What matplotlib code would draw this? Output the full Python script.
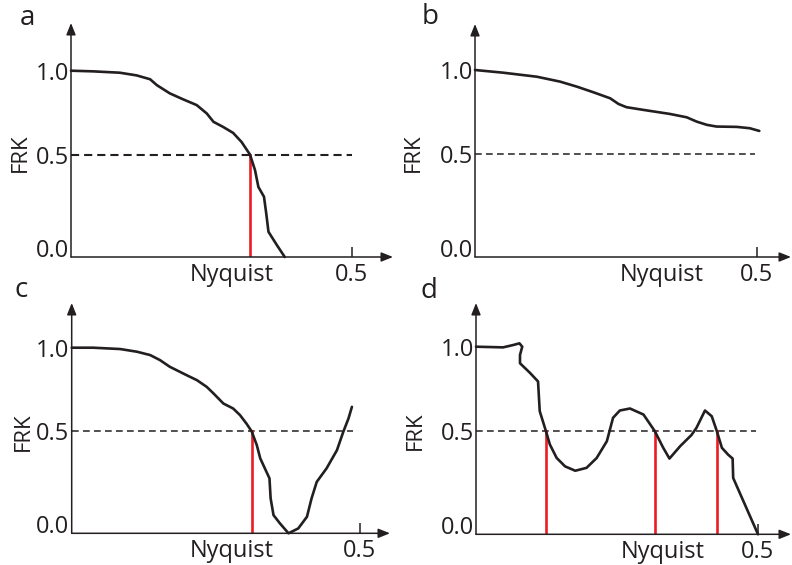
import numpy as np
import matplotlib
matplotlib.use("Agg")
from matplotlib import pyplot as plt

plt.rcParams['font.family'] = ['Open Sans', 'DejaVu Sans']

W, H = 792, 565
INK = '#231f20'
RED = '#ed1c24'

#   FRK curves (frequency in cycles/pixel, response)
a_freq = [0.000, 0.040, 0.087, 0.117, 0.141, 0.153, 0.176, 0.200, 0.224, 0.242, 0.254,
          0.271, 0.289, 0.304, 0.319, 0.328, 0.334, 0.344, 0.348, 0.352, 0.367, 0.381]
a_frk = [1.000, 0.996, 0.988, 0.972, 0.949, 0.914, 0.865, 0.829, 0.795, 0.745, 0.695,
         0.665, 0.629, 0.575, 0.500, 0.424, 0.342, 0.294, 0.213, 0.123, 0.058, 0.000]

b_freq = [0.000, 0.050, 0.110, 0.151, 0.181, 0.210, 0.240, 0.255, 0.269, 0.299, 0.346,
          0.376, 0.394, 0.412, 0.429, 0.465, 0.488, 0.505]
b_frk = [1.000, 0.984, 0.960, 0.931, 0.901, 0.868, 0.832, 0.798, 0.779, 0.763, 0.739,
         0.719, 0.693, 0.674, 0.664, 0.662, 0.654, 0.638]

c_freq = [0.000, 0.037, 0.084, 0.113, 0.136, 0.153, 0.170, 0.199, 0.217, 0.234, 0.246,
          0.263, 0.280, 0.292, 0.303, 0.312, 0.321, 0.327, 0.335, 0.343, 0.345, 0.350,
          0.361, 0.376, 0.393, 0.408, 0.416, 0.425, 0.442, 0.460, 0.471, 0.480, 0.486]
c_frk = [1.000, 1.000, 0.992, 0.976, 0.956, 0.926, 0.886, 0.836, 0.806, 0.766, 0.726,
         0.666, 0.636, 0.596, 0.546, 0.500, 0.432, 0.367, 0.318, 0.269, 0.171, 0.089,
         0.049, 0.000, 0.024, 0.081, 0.171, 0.252, 0.318, 0.407, 0.497, 0.576, 0.646]

d_freq = [0.000, 0.048, 0.066, 0.077, 0.082, 0.078, 0.078, 0.096, 0.110, 0.113, 0.124,
          0.131, 0.143, 0.158, 0.176, 0.196, 0.214, 0.232, 0.243, 0.255, 0.273, 0.297,
          0.317, 0.332, 0.343, 0.362, 0.382, 0.391, 0.406, 0.418, 0.427, 0.436, 0.447,
          0.455, 0.456, 0.500]
d_frk = [1.000, 0.996, 1.010, 1.020, 1.000, 0.951, 0.902, 0.844, 0.794, 0.618, 0.500,
         0.435, 0.370, 0.329, 0.308, 0.322, 0.370, 0.451, 0.579, 0.622, 0.634, 0.598,
         0.500, 0.419, 0.367, 0.427, 0.481, 0.520, 0.622, 0.588, 0.500, 0.419, 0.386,
         0.367, 0.273, 0.000]

#   where FRK falls through 0.5
a_cross = [0.319]
b_cross = []
c_cross = [0.312]
d_cross = [0.124, 0.317, 0.427]

letters = ['a', 'b', 'c', 'd']
half_level = 0.5
y_ticks = [0.0, 0.5, 1.0]
y_ticklabels = ['0.0', '0.5', '1.0']
x_ticks = [0.5]
x_ticklabels = ['0.5']
nyquist_pos = [0.287, 0.332, 0.278, 0.332]
dash_end = [0.5, 0.497, 0.487, 0.497]

curves = [(a_freq, a_frk, a_cross), (b_freq, b_frk, b_cross),
          (c_freq, c_frk, c_cross), (d_freq, d_frk, d_cross)]

#   pixel frame of each panel: origin x, px per unit x, axis y, y of 1.0, arrow top, arrow right
frames = [(71.0, 561.0, 257.0, 70.7, 23.0, 393.0),
          (475.0, 563.0, 257.0, 70.0, 24.0, 791.0),
          (71.7, 576.6, 533.3, 347.7, 303.0, 390.0),
          (476.0, 564.0, 534.3, 346.7, 303.0, 791.0)]
letter_xy = [(20, 25), (422, 24), (15, 297), (420, 298)]
frk_xy = [(20, 153), (413, 153), (23, 432), (415, 431)]

#   the response axis is stretched below 0.5
frk_knots = [-1.0, 0.0, 0.5, 1.0, 2.0]
pos_knots = [-1.1, 0.0, 0.55, 1.0, 1.9]

def fwd(y):
    return np.interp(y, frk_knots, pos_knots)

def inv(p):
    return np.interp(p, pos_knots, frk_knots)

fig = plt.figure(figsize=(W / 100, H / 100), dpi=100)

for i in range(4):
    x0, sx, y0, y1, top, right = frames[i]
    freq, frk, cross = curves[i]
    ax = fig.add_axes([x0 / W, (H - y0) / H, (right - x0) / W, (y0 - top) / H])
    ax.patch.set_visible(False)
    ax.set_yscale('function', functions=(fwd, inv))
    ax.set_xlim(0, (right - x0) / sx)
    ax.set_ylim(0, float(inv((y0 - top) / (y0 - y1))))
    for s in ax.spines.values():
        s.set_visible(False)

    # 0.5 threshold
    if i == 0:
        ax.plot([0, dash_end[i]], [half_level, half_level], color=INK, lw=1.5,
                ls=(0, (3.9, 2.4)), clip_on=False)
    else:
        ax.plot([0, dash_end[i]], [half_level, half_level], color=INK, lw=1.1,
                ls=(0, (4.4, 2.8)), clip_on=False)
    for c in cross:
        ax.plot([c, c], [0, half_level], color=RED, lw=1.9, zorder=2)
    ax.plot(freq, frk, color=INK, lw=1.9, solid_joinstyle='round',
            solid_capstyle='round', clip_on=False, zorder=3)

    # arrowed axes
    arrow = dict(arrowstyle='-|>,head_length=0.7,head_width=0.28', lw=1.1, color=INK,
                 shrinkA=0, shrinkB=0, mutation_scale=10)
    ax.annotate('', xy=(0, 1), xytext=(0, 0), xycoords='axes fraction',
                arrowprops=arrow, annotation_clip=False)
    ax.annotate('', xy=(1, 0), xytext=(0, 0), xycoords='axes fraction',
                arrowprops=arrow, annotation_clip=False)

    ax.set_yticks(y_ticks, y_ticklabels)
    ax.tick_params(axis='y', length=0, pad=1.5, labelsize=17, labelcolor=INK)
    ax.get_yticklabels()[0].set_verticalalignment('baseline')

    ax.set_xticks(x_ticks, x_ticklabels)
    ax.set_xticks([nyquist_pos[i]], ['Nyquist'], minor=True)
    ax.tick_params(axis='x', which='major', direction='in', length=7.2, width=1.1,
                   color=INK, pad=4, labelsize=17, labelcolor=INK)
    ax.tick_params(axis='x', which='minor', direction='in', length=0, pad=4,
                   labelsize=17, labelcolor=INK)

    fig.text(letter_xy[i][0] / W, 1 - letter_xy[i][1] / H, letters[i], fontsize=20,
             color=INK, ha='left', va='baseline')
    fig.text(frk_xy[i][0] / W, 1 - frk_xy[i][1] / H, 'FRK', fontsize=16, color=INK,
             rotation=90, ha='center', va='center')

fig.savefig('out.png', dpi=100)
